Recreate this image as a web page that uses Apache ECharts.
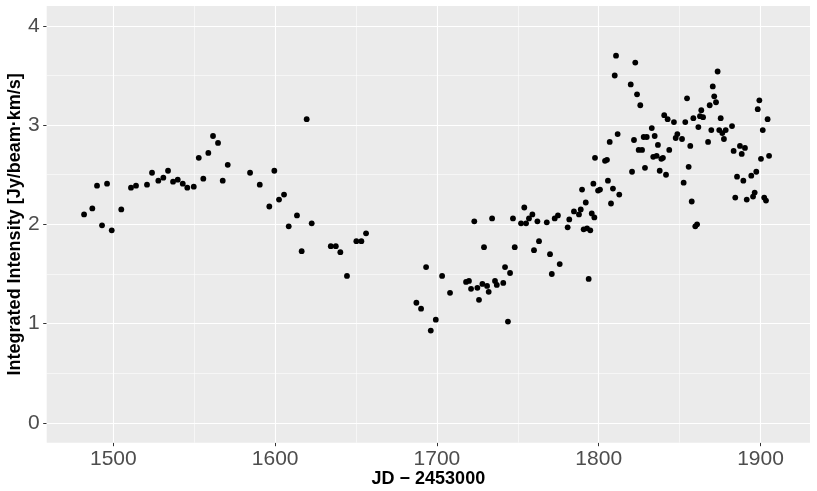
<!DOCTYPE html>
<html>
<head>
<meta charset="utf-8">
<script src="https://cdn.jsdelivr.net/npm/echarts@6/dist/echarts.min.js"></script>
<style>
html, body { margin: 0; padding: 0; background: #fff; }
#chart { width: 817px; height: 491px; }
</style>
</head>
<body>
<div id="chart"></div>
<script>
// JD - 2453000
const jd = [
  1481.9, 1487.0, 1489.9, 1493.0, 1496.1, 1499.0, 1504.9, 1510.9, 1514.0, 1520.8,
  1523.9, 1527.8, 1530.9, 1533.8, 1536.9, 1539.8, 1542.9, 1545.7, 1549.7, 1552.8,
  1555.6, 1558.7, 1561.6, 1564.7, 1567.6, 1570.7, 1584.5, 1590.5, 1596.4, 1599.5,
  1602.4, 1605.5, 1608.4, 1613.5, 1616.4, 1619.5, 1622.6, 1634.4, 1637.5, 1640.3,
  1644.4, 1650.2, 1653.3, 1656.2, 1687.3, 1690.2, 1693.3, 1696.2, 1699.3, 1703.2,
  1708.1, 1718.0, 1719.8, 1721.1, 1723.1, 1725.0, 1726.0, 1728.1, 1729.1, 1731.0,
  1732.0, 1734.1, 1735.9, 1737.0, 1741.0, 1742.1, 1743.9, 1745.2, 1747.0, 1748.1,
  1752.0, 1754.0, 1755.1, 1756.9, 1759.0, 1760.0, 1762.1, 1763.1, 1767.9, 1769.9,
  1771.0, 1772.8, 1774.8, 1775.9, 1780.8, 1781.8, 1784.7, 1787.8, 1788.9, 1789.7,
  1790.7, 1792.0, 1792.8, 1793.8, 1794.8, 1795.7, 1796.7, 1797.3, 1797.7, 1799.6,
  1800.8, 1803.9, 1805.1, 1805.7, 1806.8, 1807.6, 1808.8, 1809.9, 1810.7, 1811.7,
  1812.7, 1819.8, 1820.6, 1821.8, 1822.6, 1823.7, 1824.7, 1825.7, 1826.8, 1827.8,
  1828.6, 1829.7, 1832.8, 1833.7, 1834.6, 1835.8, 1836.6, 1837.7, 1838.7, 1839.7,
  1840.5, 1841.6, 1842.6, 1843.6, 1846.5, 1847.6, 1848.6, 1851.5, 1852.5, 1853.5,
  1854.6, 1855.6, 1856.6, 1857.5, 1858.5, 1859.7, 1860.8, 1861.6, 1862.6, 1863.4,
  1864.5, 1867.6, 1868.6, 1869.6, 1870.5, 1871.4, 1872.5, 1873.5, 1874.5, 1875.4,
  1876.4, 1877.4, 1878.5, 1882.4, 1883.4, 1884.4, 1885.5, 1887.3, 1888.4, 1889.4,
  1890.4, 1891.5, 1894.3, 1895.4, 1896.4, 1897.4, 1898.3, 1899.3, 1900.3, 1901.4,
  1902.3, 1903.4, 1904.4, 1905.3
]
// Integrated Intensity [Jy/beam km/s]
const intensity = [
  2.10, 2.16, 2.39, 1.99, 2.41, 1.94, 2.15, 2.37, 2.39, 2.40,
  2.52, 2.44, 2.47, 2.54, 2.43, 2.45, 2.41, 2.37, 2.38, 2.67,
  2.46, 2.72, 2.89, 2.82, 2.44, 2.60, 2.52, 2.40, 2.18, 2.54,
  2.25, 2.30, 1.98, 2.09, 1.73, 3.06, 2.01, 1.78, 1.78, 1.72,
  1.48, 1.83, 1.83, 1.91, 1.21, 1.15, 1.57, 0.93, 1.04, 1.48,
  1.31, 1.42, 1.43, 1.35, 2.03, 1.36, 1.24, 1.40, 1.77, 1.38,
  1.32, 2.06, 1.43, 1.39, 1.41, 1.57, 1.02, 1.51, 2.06, 1.77,
  2.01, 2.17, 2.01, 2.06, 2.10, 1.74, 2.03, 1.83, 2.02, 1.70,
  1.50, 2.06, 2.09, 1.60, 1.97, 2.05, 2.13, 2.10, 2.15, 2.35,
  1.95, 2.22, 1.96, 1.45, 1.94, 2.11, 2.41, 2.07, 2.67, 2.34,
  2.35, 2.64, 2.65, 2.44, 2.83, 2.21, 2.36, 3.50, 3.70, 2.91,
  2.30, 3.41, 2.53, 2.85, 3.63, 3.31, 2.75, 3.20, 2.75, 2.88,
  2.57, 2.88, 2.97, 2.68, 2.89, 2.69, 2.80, 2.54, 2.66, 2.67,
  3.10, 2.50, 3.06, 2.75, 3.03, 2.87, 2.91, 2.86, 2.42, 3.03,
  3.27, 2.58, 2.79, 2.23, 3.07, 1.98, 2.00, 2.98, 3.09, 3.15,
  3.08, 2.83, 3.20, 2.95, 3.39, 3.29, 3.23, 3.54, 2.95, 3.07,
  2.92, 2.86, 2.95, 2.99, 2.74, 2.27, 2.48, 2.79, 2.71, 2.44,
  2.77, 2.25, 2.49, 2.28, 2.32, 2.53, 3.16, 3.25, 2.66, 2.95,
  2.27, 2.24, 3.06, 2.69
]

const xBreaks = [1500, 1600, 1700, 1800, 1900]
const xMinor = [1550, 1650, 1750, 1850]
const yBreaks = [0, 1, 2, 3, 4]
const yMinor = [0.5, 1.5, 2.5, 3.5]

const font = 'Liberation Sans, Arial, Helvetica, sans-serif'

let chart = echarts.init(document.getElementById('chart'), null, { renderer: 'canvas' })

const gridLines = [].concat(
  xMinor.map(v => ({ xAxis: v, lineStyle: { width: 0.55 } })),
  yMinor.map(v => ({ yAxis: v, lineStyle: { width: 0.55 } })),
  xBreaks.map(v => ({ xAxis: v, lineStyle: { width: 1.1 } })),
  yBreaks.map(v => ({ yAxis: v, lineStyle: { width: 1.1 } }))
)

const option = {
  animation: false,
  grid: {
    left: 46.7,
    right: 7,
    top: 6,
    bottom: 48.3,
    containLabel: false,
    outerBoundsMode: 'none',
    show: true,
    backgroundColor: '#EBEBEB',
    borderWidth: 0
  },
  xAxis: {
    type: 'value',
    min: 1458.8,
    max: 1930.6,
    axisLine: { show: false, onZero: false },
    splitLine: { show: false },
    axisTick: {
      show: true,
      customValues: xBreaks,
      length: 3.5,
      lineStyle: { color: '#333333', width: 1 }
    },
    axisLabel: {
      customValues: xBreaks,
      formatter: v => String(v),
      color: '#4D4D4D',
      fontSize: 21,
      fontFamily: font,
      margin: 6
    },
    name: 'JD − 2453000',
    nameLocation: 'middle',
    nameMoveOverlap: false,
    nameGap: 27,
    nameTextStyle: { fontWeight: 'bold', fontSize: 18, color: '#000', fontFamily: font }
  },
  yAxis: {
    type: 'value',
    min: -0.2,
    max: 4.2,
    axisLine: { show: false, onZero: false },
    splitLine: { show: false },
    axisTick: {
      show: true,
      customValues: yBreaks,
      length: 3.5,
      lineStyle: { color: '#333333', width: 1 }
    },
    axisLabel: {
      customValues: yBreaks,
      formatter: v => String(v),
      color: '#4D4D4D',
      fontSize: 21,
      fontFamily: font,
      margin: 7
    },
    name: 'Integrated Intensity [Jy/beam·km/s]',
    nameLocation: 'middle',
    nameMoveOverlap: false,
    nameGap: 23,
    nameTextStyle: { fontWeight: 'bold', fontSize: 18, color: '#000', fontFamily: font }
  },
  series: [
    {
      type: 'line',
      data: [],
      z: 1,
      silent: true,
      markLine: {
        silent: true,
        z: 1,
        symbol: 'none',
        label: { show: false },
        lineStyle: { color: '#FFFFFF', type: 'solid' },
        data: gridLines
      }
    },
    {
      type: 'scatter',
      z: 5,
      symbol: 'circle',
      symbolSize: 5.8,
      itemStyle: { color: '#000000', opacity: 1 },
      data: jd.map((x, i) => [x, intensity[i]])
    }
  ]
}

chart.setOption(option)
</script>
</body>
</html>
